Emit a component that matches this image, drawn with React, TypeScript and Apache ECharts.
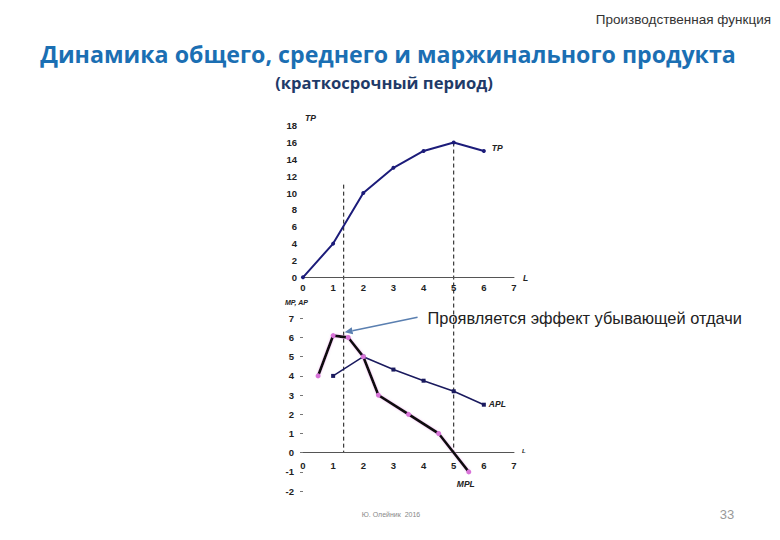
import React, { useEffect, useRef } from "react";
import * as echarts from "echarts";

const X_TICKS = [0, 1, 2, 3, 4, 5, 6, 7];
const TP_L = [0, 1, 2, 3, 4, 5, 6];
const TP = [0, 4, 10, 13, 15, 16, 15];
const APL_L = [1, 2, 3, 4, 5, 6];
const APL = [4, 5, 4.33, 3.75, 3.2, 2.5];
const MPL_L = [0.5, 1, 1.5, 2, 2.5, 3.5, 4.5, 5.5];
const MPL = [4, 6.1, 6, 5, 3, 2, 1, -1];
const TOP_Y = { min: 0, max: 18, step: 2 };
const BOT_Y = { min: -2, max: 7, step: 1 };
const DASH_TOP = [11, 16];
const DASH_X = [1.35, 5];

const HEADER = "Производственная функция";
const TITLE = "Динамика общего, среднего и маржинального продукта";
const SUBTITLE = "(краткосрочный период)";
const NOTE = "Проявляется эффект убывающей отдачи";
const FOOTER = "Ю. Олейник  2016";
const PAGE = "33";

const axisFont = { fontFamily: "Liberation Sans, Arial, sans-serif", fontSize: 9.5, fontWeight: "bold", color: "#222" };

const TOP_GRID = { left: 303, top: 125.7, width: 211, height: 151.6 };
const BOT_GRID = { left: 303, top: 318.3, width: 211, height: 172.8 };

export default function App() {
  const ref = useRef<HTMLDivElement>(null);
  useEffect(() => {
    document.body.style.margin = "0";
    const chart = echarts.init(ref.current!, null, { renderer: "svg" });
    const xAxisBase = {
      type: "value",
      min: X_TICKS[0],
      max: X_TICKS[X_TICKS.length - 1],
      interval: 1,
      splitLine: { show: false },
      axisTick: { show: false },
    };
    const zeroOffset = -(BOT_GRID.height * (0 - BOT_Y.min)) / (BOT_Y.max - BOT_Y.min);
    chart.setOption({
      animation: false,
      backgroundColor: "#fff",
      grid: [
        { ...TOP_GRID, outerBoundsMode: "none" },
        { ...BOT_GRID, outerBoundsMode: "none" },
      ],
      xAxis: [
        {
          ...xAxisBase, gridIndex: 0,
          axisLine: { show: true, lineStyle: { color: "#555", width: 1 } },
          axisLabel: { ...axisFont, margin: 5 },
        },
        {
          ...xAxisBase, gridIndex: 1, offset: zeroOffset,
          axisLine: { show: true, onZero: false, lineStyle: { color: "#555", width: 1 } },
          axisLabel: { ...axisFont, margin: 8 },
        },
      ],
      yAxis: [
        {
          type: "value", gridIndex: 0, min: TOP_Y.min, max: TOP_Y.max, interval: TOP_Y.step,
          splitLine: { show: false }, axisLine: { show: false }, axisTick: { show: false },
          axisLabel: { ...axisFont, margin: 6 },
        },
        {
          type: "value", gridIndex: 1, min: BOT_Y.min, max: BOT_Y.max, interval: BOT_Y.step,
          splitLine: { show: false }, axisLine: { show: false },
          axisTick: { show: true, length: 3, lineStyle: { color: "#777" } },
          axisLabel: { ...axisFont, margin: 9 },
        },
      ],
      series: [
        {
          type: "line", xAxisIndex: 0, yAxisIndex: 0, silent: true,
          data: TP_L.map((l, i) => [l, TP[i]]),
          lineStyle: { color: "#1c1c7a", width: 2 },
          itemStyle: { color: "#1c1c7a" }, symbol: "circle", symbolSize: 4,
        },
        {
          type: "line", xAxisIndex: 1, yAxisIndex: 1, silent: true,
          data: APL_L.map((l, i) => [l, APL[i]]),
          lineStyle: { color: "#1a1a5e", width: 1.5 },
          itemStyle: { color: "#1a1a5e" }, symbol: "rect", symbolSize: 4,
        },
        {
          type: "line", xAxisIndex: 1, yAxisIndex: 1, silent: true,
          data: MPL_L.map((l, i) => [l, MPL[i]]),
          lineStyle: { color: "#111", width: 2.8, shadowColor: "rgba(225,140,225,0.5)", shadowBlur: 2 },
          itemStyle: { color: "#d873d8" }, symbol: "circle", symbolSize: 5,
        },
      ],
    });

    const p = (g: number, v: number[]) => chart.convertToPixel({ gridIndex: g }, v) as number[];
    const graphics: any[] = [];
    DASH_X.forEach((x, i) => {
      const a = p(0, [x, DASH_TOP[i]]);
      const b = p(1, [x, 0]);
      graphics.push({
        type: "line", silent: true,
        shape: { x1: a[0], y1: a[1], x2: b[0], y2: b[1] },
        style: { stroke: "#111", lineWidth: 1, lineDash: [4, 3] },
      });
    });
    // arrow
    const s = p(1, [3.8, 7.05]);
    const e = p(1, [1.38, 6.27]);
    const ang = Math.atan2(e[1] - s[1], e[0] - s[0]);
    const ah = 8, aw = 3.5;
    const bx = e[0] - ah * Math.cos(ang), by = e[1] - ah * Math.sin(ang);
    graphics.push({
      type: "line", silent: true,
      shape: { x1: s[0], y1: s[1], x2: bx, y2: by },
      style: { stroke: "#5a7fb0", lineWidth: 1.6 },
    });
    graphics.push({
      type: "polygon", silent: true,
      shape: {
        points: [
          [e[0], e[1]],
          [bx + aw * Math.sin(ang), by - aw * Math.cos(ang)],
          [bx - aw * Math.sin(ang), by + aw * Math.cos(ang)],
        ],
      },
      style: { fill: "#5a7fb0" },
    });
    const lbl = (text: string, pt: number[], size: number, align = "left") => ({
      type: "text", silent: true, x: pt[0], y: pt[1],
      style: {
        text, fontSize: size, fontStyle: "italic", fontWeight: "bold",
        fontFamily: "Liberation Sans, Arial, sans-serif", fill: "#222",
        align, verticalAlign: "middle",
      },
    });
    const tpTop = p(0, [0, TOP_Y.max]);
    graphics.push(lbl("TP", [tpTop[0] + 2, tpTop[1] - 8], 8.5));
    const tpEnd = p(0, [TP_L[TP_L.length - 1], TP[TP.length - 1]]);
    graphics.push(lbl("TP", [tpEnd[0] + 8, tpEnd[1] - 3], 8.5));
    const xEnd0 = p(0, [7, 0]);
    graphics.push(lbl("L", [xEnd0[0] + 9, xEnd0[1] + 1], 8.5));
    const xEnd1 = p(1, [7, 0]);
    graphics.push(lbl("L", [xEnd1[0] + 8, xEnd1[1] - 2], 6));
    const mpTop = p(1, [0, BOT_Y.max]);
    graphics.push(lbl("MP, AP", [mpTop[0] - 18, mpTop[1] - 16], 7));
    const aplEnd = p(1, [APL_L[APL_L.length - 1], APL[APL.length - 1]]);
    graphics.push(lbl("APL", [aplEnd[0] + 5, aplEnd[1] - 1], 8.5));
    const mplEnd = p(1, [MPL_L[MPL_L.length - 1], MPL[MPL.length - 1]]);
    graphics.push(lbl("MPL", [mplEnd[0] - 3, mplEnd[1] + 12], 8.5, "center"));

    graphics.push(
      {
        type: "text", silent: true, x: 771, y: 19,
        style: { text: HEADER, fontSize: 13.5, fontFamily: "Liberation Sans, Arial, sans-serif", fill: "#333", align: "right", verticalAlign: "middle" },
      },
      {
        type: "text", silent: true, x: 388, y: 54,
        style: { text: TITLE, fontSize: 23.2, fontWeight: "bold", fontFamily: "Open Sans, Noto Sans, sans-serif", fill: "#1b6fb3", align: "center", verticalAlign: "middle" },
      },
      {
        type: "text", silent: true, x: 384, y: 82,
        style: { text: SUBTITLE, fontSize: 16.6, fontWeight: "bold", fontFamily: "Open Sans, Noto Sans, sans-serif", fill: "#1f3a68", align: "center", verticalAlign: "middle" },
      },
      {
        type: "text", silent: true, x: s[0] + 10, y: s[1] + 1,
        style: { text: NOTE, fontSize: 16.4, fontFamily: "Liberation Sans, Arial, sans-serif", fill: "#222", align: "left", verticalAlign: "middle" },
      },
      {
        type: "text", silent: true, x: 391, y: 514,
        style: { text: FOOTER, fontSize: 7, fontFamily: "Liberation Sans, Arial, sans-serif", fill: "#888", align: "center", verticalAlign: "middle" },
      },
      {
        type: "text", silent: true, x: 727, y: 514,
        style: { text: PAGE, fontSize: 13, fontFamily: "Liberation Sans, Arial, sans-serif", fill: "#999", align: "center", verticalAlign: "middle" },
      }
    );
    chart.setOption({ graphic: graphics });
    return () => chart.dispose();
  }, []);
  return <div ref={ref} style={{ width: 780, height: 540 }} />;
}
